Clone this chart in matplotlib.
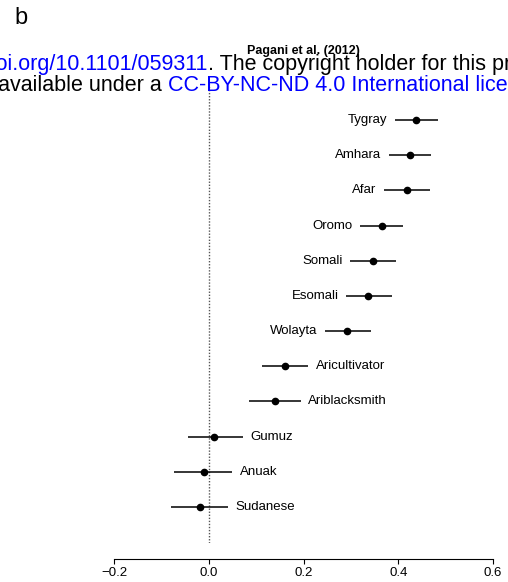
import matplotlib
matplotlib.use('Agg')
import matplotlib.pyplot as plt

plt.rcParams['font.family'] = ['Liberation Sans', 'DejaVu Sans']

# estimates with their intervals, top row first
populations = ['Tygray', 'Amhara', 'Afar', 'Oromo', 'Somali', 'Esomali', 'Wolayta',
               'Aricultivator', 'Ariblacksmith', 'Gumuz', 'Anuak', 'Sudanese']
estimates = [0.437, 0.424, 0.418, 0.365, 0.347, 0.337, 0.292,
             0.162, 0.139, 0.012, -0.011, -0.019]
lower = [0.393, 0.380, 0.370, 0.320, 0.299, 0.290, 0.245,
         0.113, 0.085, -0.044, -0.073, -0.080]
upper = [0.483, 0.470, 0.466, 0.411, 0.396, 0.386, 0.342,
         0.210, 0.194, 0.072, 0.049, 0.041]
xticks = [-0.2, 0.0, 0.2, 0.4, 0.6]

W, H = 508, 582


def px(x, y):
    return x / W, 1 - y / H


def main():
    fig = plt.figure(figsize=(W / 100, H / 100), dpi=100)
    ax = fig.add_axes([114 / W, 39 / H, 379 / W, 459 / H])

    n = len(populations)
    rows = [n - i for i in range(n)]

    ax.axvline(0, color='#555555', lw=1, dashes=(1, 1.2))
    ax.hlines(rows, lower, upper, color='black', lw=1.1)
    ax.plot(estimates, rows, 'o', color='black', ms=4.5)

    for name, est, lo, hi, r in zip(populations, estimates, lower, upper, rows):
        if est > 0.2:
            ax.annotate(name, (lo, r), xytext=(-5.5, 0), textcoords='offset points',
                        ha='right', va='center', fontsize=9.5)
        else:
            ax.annotate(name, (hi, r), xytext=(5.5, 0), textcoords='offset points',
                        ha='left', va='center', fontsize=9.5)

    ax.set_xlim(-0.2, 0.6)
    ax.set_ylim(-0.02, n + 1.02)
    for s in ['left', 'top', 'right']:
        ax.spines[s].set_visible(False)
    ax.spines['bottom'].set_position(('outward', 11.5))
    ax.spines['bottom'].set_bounds(-0.2, 0.6)
    ax.spines['bottom'].set_linewidth(0.8)
    ax.set_yticks([])
    ax.set_xticks(xticks)
    ax.set_xticklabels([f'{v:.1f}'.replace('-', '\u2212') for v in xticks])
    ax.tick_params(axis='x', length=3.5, width=0.8, pad=2, labelsize=9.5)
    ax.patch.set_visible(False)

    fig.text(*px(303.5, 54), 'Pagani et al. (2012)', ha='center', va='baseline',
             fontsize=9, fontweight='bold')
    fig.text(*px(14, 24), 'b', ha='left', va='baseline', fontsize=17)

    # bioRxiv watermark lying over the figure
    fs = 15.5
    fig.text(*px(208, 70), 'https://doi.org/10.1101/059311', ha='right',
             va='baseline', fontsize=fs, color='blue')
    fig.text(*px(208.5, 70), '. The copyright holder for this preprint (which was not',
             ha='left', va='baseline', fontsize=fs, color='black')
    fig.text(*px(162, 91), 'It is made available under a', ha='right',
             va='baseline', fontsize=fs, color='black')
    fig.text(*px(168, 91), 'CC-BY-NC-ND 4.0 International license.', ha='left',
             va='baseline', fontsize=fs, color='blue')

    fig.savefig('out.png', dpi=100)


if __name__ == "__main__":
    main()
